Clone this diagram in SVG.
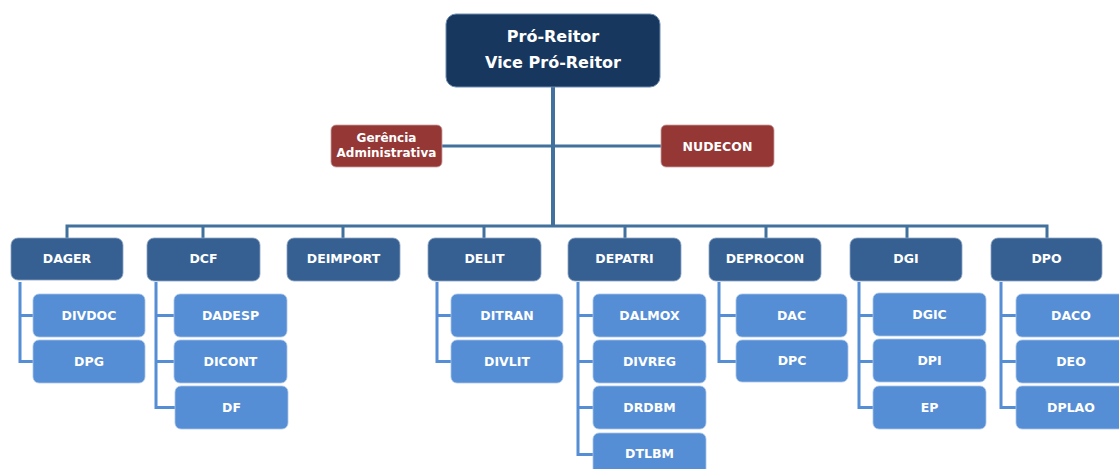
<svg xmlns="http://www.w3.org/2000/svg" width="1119" height="469" viewBox="0 0 1119 469">
<style>
text{font-family:"DejaVu Sans","Liberation Sans",sans-serif;font-weight:bold;fill:#fff;text-anchor:middle}
.top{fill:#17375e;stroke:#6f8cb0;stroke-width:1}
.red{fill:#953735;stroke:#c9a09f;stroke-width:0.8}
.l1{fill:#366092;stroke:#8aa3c4;stroke-width:0.8}
.l2{fill:#558ed5;stroke:#a9c4e8;stroke-width:0.8}
.t1{font-size:12.5px}
.main{stroke:#41719c;fill:none}
.br{stroke:#558ed5;fill:none;stroke-width:3}
</style>
<g id="connectors">
<line class="main" x1="553" y1="87" x2="553" y2="226" stroke-width="4"/>
<line class="main" x1="442" y1="146" x2="661" y2="146" stroke-width="3"/>
<polyline class="main" stroke-width="3" points="67,238 67,226 1047,226 1047,238"/>
<line class="main" x1="203" y1="226" x2="203" y2="238" stroke-width="3"/>
<line class="main" x1="343" y1="226" x2="343" y2="238" stroke-width="3"/>
<line class="main" x1="484" y1="226" x2="484" y2="238" stroke-width="3"/>
<line class="main" x1="625" y1="226" x2="625" y2="238" stroke-width="3"/>
<line class="main" x1="766" y1="226" x2="766" y2="238" stroke-width="3"/>
<line class="main" x1="907" y1="226" x2="907" y2="238" stroke-width="3"/>
<path class="br" d="M20 282V361.5H33M20 315.5H33"/>
<path class="br" d="M156 282V407.5H175M156 315.5H174M156 361.5H174"/>
<path class="br" d="M437 282V361.5H451M437 315.5H451"/>
<path class="br" d="M578 282V454.5H593M578 315.5H593M578 361.5H593M578 407.5H593"/>
<path class="br" d="M719 282V361.5H736M719 315.5H736"/>
<path class="br" d="M859 282V407.5H873M859 315.5H873M859 361.5H873"/>
<path class="br" d="M1001 282V407.5H1016M1001 315.5H1016M1001 361.5H1016"/>
</g>
<g id="pro-reitor"><rect class="top" x="446" y="14" width="214" height="73" rx="10"/><text x="553" y="42" font-size="16">Pró-Reitor</text><text x="553" y="68" font-size="16">Vice Pró-Reitor</text></g>
<g id="gerencia"><rect class="red" x="331" y="125" width="111" height="42" rx="5"/><text x="386.5" y="141.5" font-size="12">Gerência</text><text x="386.5" y="156.5" font-size="12">Administrativa</text></g>
<g id="nudecon"><rect class="red" x="661" y="125" width="113" height="42" rx="5"/><text x="717.5" y="150.5" class="t1">NUDECON</text></g>

<g id="dager"><rect class="l1" x="11" y="238" width="112" height="42" rx="7"/><text x="67" y="263" class="t1">DAGER</text></g>
<g id="dcf"><rect class="l1" x="147" y="238" width="113" height="43" rx="7"/><text x="203.5" y="263" class="t1">DCF</text></g>
<g id="deimport"><rect class="l1" x="287" y="238" width="113" height="43" rx="7"/><text x="343.5" y="263" class="t1">DEIMPORT</text></g>
<g id="delit"><rect class="l1" x="428" y="238" width="113" height="43" rx="7"/><text x="484.5" y="263" class="t1">DELIT</text></g>
<g id="depatri"><rect class="l1" x="568" y="238" width="113" height="43" rx="7"/><text x="624.5" y="263" class="t1">DEPATRI</text></g>
<g id="deprocon"><rect class="l1" x="709" y="238" width="112" height="43" rx="7"/><text x="765" y="263" class="t1">DEPROCON</text></g>
<g id="dgi"><rect class="l1" x="850" y="238" width="112" height="43" rx="7"/><text x="906" y="263" class="t1">DGI</text></g>
<g id="dpo"><rect class="l1" x="991" y="238" width="111" height="43" rx="7"/><text x="1046.5" y="263" class="t1">DPO</text></g>

<g id="divdoc"><rect class="l2" x="33" y="294" width="112" height="43" rx="6"/><text x="89" y="320" class="t1">DIVDOC</text></g>
<g id="dpg"><rect class="l2" x="33" y="340" width="112" height="43" rx="6"/><text x="89" y="366" class="t1">DPG</text></g>

<g id="dadesp"><rect class="l2" x="174" y="294" width="113" height="43" rx="6"/><text x="230.5" y="320" class="t1">DADESP</text></g>
<g id="dicont"><rect class="l2" x="174" y="340" width="113" height="43" rx="6"/><text x="230.5" y="366" class="t1">DICONT</text></g>
<g id="df"><rect class="l2" x="175" y="386" width="113" height="43" rx="6"/><text x="231.5" y="412" class="t1">DF</text></g>

<g id="ditran"><rect class="l2" x="451" y="294" width="112" height="43" rx="6"/><text x="507" y="320" class="t1">DITRAN</text></g>
<g id="divlit"><rect class="l2" x="451" y="340" width="112" height="43" rx="6"/><text x="507" y="366" class="t1">DIVLIT</text></g>

<g id="dalmox"><rect class="l2" x="593" y="294" width="113" height="43" rx="6"/><text x="649.5" y="320" class="t1">DALMOX</text></g>
<g id="divreg"><rect class="l2" x="593" y="340" width="113" height="43" rx="6"/><text x="649.5" y="366" class="t1">DIVREG</text></g>
<g id="drdbm"><rect class="l2" x="593" y="386" width="113" height="43" rx="6"/><text x="649.5" y="412" class="t1">DRDBM</text></g>
<g id="dtlbm"><rect class="l2" x="593" y="433" width="113" height="43" rx="6"/><text x="649.5" y="458" class="t1">DTLBM</text></g>

<g id="dac"><rect class="l2" x="736" y="294" width="111" height="43" rx="6"/><text x="791.5" y="320" class="t1">DAC</text></g>
<g id="dpc"><rect class="l2" x="736" y="340" width="112" height="42" rx="6"/><text x="792" y="365" class="t1">DPC</text></g>

<g id="dgic"><rect class="l2" x="873" y="293" width="113" height="43" rx="6"/><text x="929.5" y="319" class="t1">DGIC</text></g>
<g id="dpi"><rect class="l2" x="873" y="339" width="113" height="43" rx="6"/><text x="929.5" y="365" class="t1">DPI</text></g>
<g id="ep"><rect class="l2" x="873" y="386" width="113" height="43" rx="6"/><text x="929.5" y="412" class="t1">EP</text></g>

<g id="daco"><rect class="l2" x="1016" y="294" width="112" height="43" rx="6"/><text x="1071" y="320" class="t1">DACO</text></g>
<g id="deo"><rect class="l2" x="1016" y="340" width="112" height="43" rx="6"/><text x="1071" y="366" class="t1">DEO</text></g>
<g id="dplao"><rect class="l2" x="1016" y="386" width="112" height="43" rx="6"/><text x="1071" y="412" class="t1">DPLAO</text></g>
</svg>
